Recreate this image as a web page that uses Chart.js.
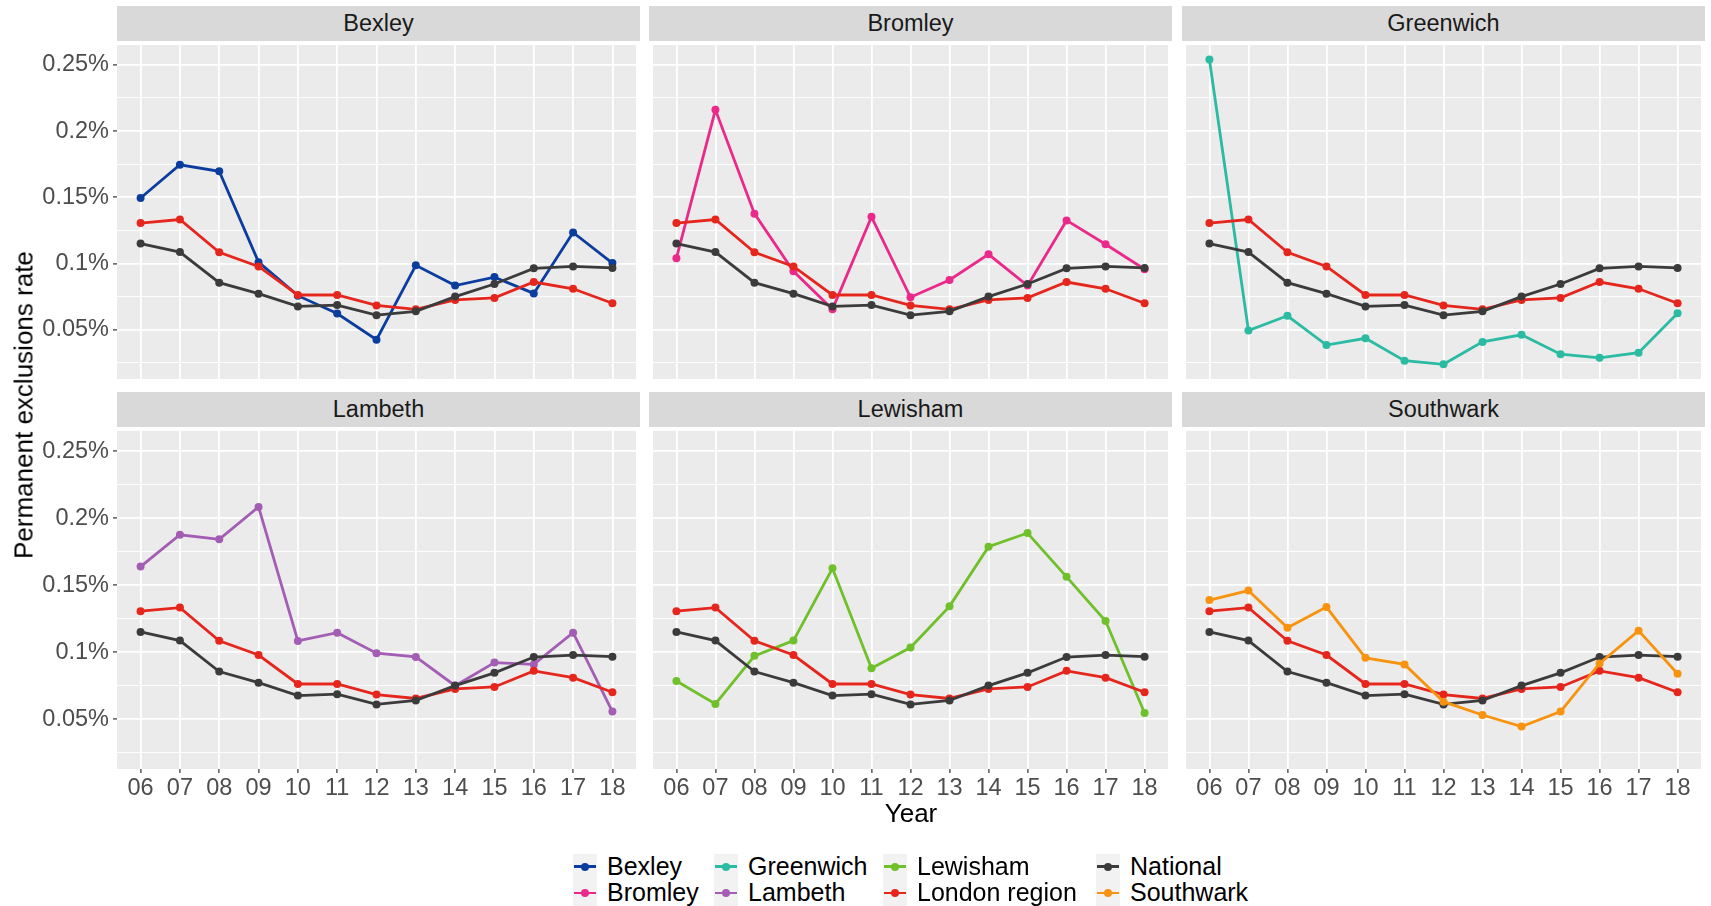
<!DOCTYPE html>
<html>
<head>
<meta charset="utf-8">
<script src="https://cdn.jsdelivr.net/npm/chart.js@4/dist/chart.umd.min.js"></script>
<style>
  html, body { margin: 0; padding: 0; background: #ffffff; }
  body { font-family: "Liberation Sans", Arial, sans-serif; }
  #wrap { position: relative; width: 1711px; height: 906px; overflow: hidden; background: #ffffff; }
  canvas { position: absolute; }
  .strip { position: absolute; background: #d9d9d9; color: #1a1a1a; font-size: 23.5px;
           display: flex; align-items: center; justify-content: center; }
  .ytitle { position: absolute; font-size: 26px; color: #000; white-space: nowrap;
            transform: translate(-50%, -50%) rotate(-90deg); }
  .xtitle { position: absolute; font-size: 26px; color: #000; white-space: nowrap;
            transform: translate(-50%, -50%); }
  .lcol { position: absolute; }
  .litem { display: flex; align-items: center; height: 26.3px; font-size: 25px; color: #000; white-space: nowrap; }
  .lkey { position: relative; width: 24px; height: 26px; background: #f2f2f2; margin-right: 10px; flex: none; }
  .lkey .ln { position: absolute; left: 1px; right: 1px; top: 11.6px; height: 2.8px; }
  .lkey .dt { position: absolute; left: 8px; top: 9px; width: 8px; height: 8px; border-radius: 50%; }
</style>
</head>
<body>
<div id="wrap"></div>
<script>
// ---------------- data ----------------
const years = ['06','07','08','09','10','11','12','13','14','15','16','17','18'];
const panelNames = ['Bexley','Bromley','Greenwich','Lambeth','Lewisham','Southwark'];
const legendOrder = ['Bexley','Bromley','Greenwich','Lambeth','Lewisham','London region','National','Southwark'];

const bexley    = [0.1495,0.1746,0.1697,0.1011,0.0758,0.0623,0.0426,0.0987,0.0834,0.0898,0.0775,0.1235,0.1004];
const bromley   = [0.1041,0.2161,0.1377,0.0942,0.0655,0.1353,0.0746,0.0876,0.1070,0.0834,0.1326,0.1146,0.0957];
const greenwich = [0.2540,0.0495,0.0606,0.0385,0.0436,0.0267,0.0240,0.0409,0.0463,0.0316,0.0289,0.0328,0.0625];
const lambeth   = [0.1639,0.1876,0.1842,0.2084,0.1084,0.1146,0.0993,0.0965,0.0750,0.0923,0.0909,0.1146,0.0557];
const lewisham  = [0.0785,0.0614,0.0973,0.1087,0.1626,0.0881,0.1035,0.1342,0.1787,0.1889,0.1562,0.1233,0.0547];
const southwark = [0.1389,0.1460,0.1183,0.1337,0.0958,0.0909,0.0631,0.0532,0.0446,0.0557,0.0916,0.1161,0.0839];
const londonRegion = [0.1306,0.1333,0.1085,0.0979,0.0763,0.0763,0.0684,0.0655,0.0726,0.0741,0.0861,0.0810,0.0701];
const national     = [0.1151,0.1087,0.0856,0.0773,0.0677,0.0687,0.0611,0.0640,0.0751,0.0846,0.0964,0.0979,0.0967];

const yMajorTicks = [0.05, 0.1, 0.15, 0.2, 0.25];
const yMajorLabels = ['0.05%','0.1%','0.15%','0.2%','0.25%'];
const yMinorTicks = [0.025, 0.075, 0.125, 0.175, 0.225];
const yLimits = [0.0129, 0.2650];

// ---------------- style ----------------
const seriesColors = {
  'Bexley': '#0b3d9f',
  'Bromley': '#ea2a8b',
  'Greenwich': '#2bbba3',
  'Lambeth': '#a45db4',
  'Lewisham': '#6fc02a',
  'London region': '#e5261d',
  'National': '#3b3b3b',
  'Southwark': '#f7930f'
};
const seriesValues = {
  'Bexley': bexley, 'Bromley': bromley, 'Greenwich': greenwich, 'Lambeth': lambeth,
  'Lewisham': lewisham, 'Southwark': southwark, 'London region': londonRegion, 'National': national
};

Chart.defaults.font.family = '"Liberation Sans", Arial, sans-serif';

const wrap = document.getElementById('wrap');
const colLeft = [117, 649, 1182];
const rowTop = [41, 427];
const PW = 523, PH = 342;
const STRIP_H = 35;
const X_AXIS_H = 44;

const bgPlugin = {
  id: 'panelBg',
  beforeDraw(chart) {
    const a = chart.chartArea, ctx = chart.ctx;
    ctx.save();
    ctx.fillStyle = '#ebebeb';
    ctx.fillRect(a.left, a.top, a.right - a.left, a.bottom - a.top);
    ctx.restore();
  }
};

function isMajor(v) { return yMajorTicks.some(t => Math.abs(t - v) < 1e-9); }
function zeroPad(s) { s.paddingTop = 0; s.paddingBottom = 0; s.paddingLeft = 0; s.paddingRight = 0; }

function makePanel(idx) {
  const name = panelNames[idx];
  const r = Math.floor(idx / 3), c = idx % 3;
  const plotL = colLeft[c], plotT = rowTop[r];
  const axisW = c === 0 ? plotL : 0;
  const axisH = r === 1 ? X_AXIS_H : 0;
  const W = PW + axisW, H = PH + axisH;

  // strip
  const strip = document.createElement('div');
  strip.className = 'strip';
  strip.style.left = plotL + 'px';
  strip.style.top = (plotT - STRIP_H) + 'px';
  strip.style.width = PW + 'px';
  strip.style.height = STRIP_H + 'px';
  strip.textContent = name;
  wrap.appendChild(strip);

  const cv = document.createElement('canvas');
  cv.width = W; cv.height = H;
  cv.style.left = (plotL - axisW) + 'px';
  cv.style.top = plotT + 'px';
  cv.style.width = W + 'px';
  cv.style.height = H + 'px';
  wrap.appendChild(cv);

  const names = [name, 'London region', 'National'];
  // ggplot draws in factor order (later on top); Chart.js draws index 0 on top
  names.sort((a, b) => legendOrder.indexOf(b) - legendOrder.indexOf(a));
  const datasets = names.map(n => ({
    label: n,
    data: seriesValues[n].map((v, i) => ({ x: i, y: v })),
    borderColor: seriesColors[n],
    backgroundColor: seriesColors[n],
    pointBackgroundColor: seriesColors[n],
    pointBorderWidth: 0,
    pointRadius: 4,
    borderWidth: 2.8,
    tension: 0,
    fill: false
  }));

  new Chart(cv, {
    type: 'line',
    data: { datasets },
    plugins: [bgPlugin],
    options: {
      responsive: false,
      animation: false,
      devicePixelRatio: 1,
      layout: { padding: 0 },
      plugins: { legend: { display: false }, tooltip: { enabled: false } },
      scales: {
        x: {
          type: 'linear',
          min: -0.6, max: years.length - 1 + 0.6,
          afterBuildTicks: s => { s.ticks = years.map((_, i) => ({ value: i })); },
          afterFit: s => { s.height = axisH; zeroPad(s); },
          border: { display: false },
          grid: {
            color: '#ffffff', lineWidth: 1.8,
            drawTicks: r === 1, tickLength: 4, tickColor: '#333333', tickWidth: 1.2
          },
          ticks: {
            display: r === 1,
            autoSkip: false, maxRotation: 0, minRotation: 0,
            padding: 1,
            color: '#4d4d4d',
            font: { size: 23.5 },
            callback: v => years[v]
          }
        },
        y: {
          type: 'linear',
          min: yLimits[0], max: yLimits[1],
          afterBuildTicks: s => {
            s.ticks = yMinorTicks.concat(yMajorTicks).sort((a, b) => a - b).map(v => ({ value: v }));
          },
          afterFit: s => { s.width = axisW; zeroPad(s); },
          border: { display: false },
          grid: {
            color: '#ffffff',
            lineWidth: ctx => (ctx.tick && isMajor(ctx.tick.value)) ? 1.8 : 0.9,
            drawTicks: c === 0, tickLength: 4,
            tickColor: ctx => (ctx.tick && isMajor(ctx.tick.value)) ? '#333333' : 'rgba(0,0,0,0)',
            tickWidth: 1.2
          },
          ticks: {
            display: c === 0,
            autoSkip: false,
            padding: 4,
            color: '#4d4d4d',
            font: { size: 23.5 },
            callback: v => {
              const k = yMajorTicks.findIndex(t => Math.abs(t - v) < 1e-9);
              return k >= 0 ? yMajorLabels[k] : '';
            }
          }
        }
      }
    }
  });
}

for (let i = 0; i < panelNames.length; i++) makePanel(i);

// axis titles
const yt = document.createElement('div');
yt.className = 'ytitle';
yt.style.left = '24px'; yt.style.top = '405px';
yt.textContent = 'Permanent exclusions rate';
wrap.appendChild(yt);

const xt = document.createElement('div');
xt.className = 'xtitle';
xt.style.left = '911px'; xt.style.top = '813px';
xt.textContent = 'Year';
wrap.appendChild(xt);

// legend (2 rows, filled column by column)
const legendColLeft = [573, 714, 883, 1096];
const legendTop = 853.5;
for (let col = 0; col < 4; col++) {
  const cd = document.createElement('div');
  cd.className = 'lcol';
  cd.style.left = legendColLeft[col] + 'px';
  cd.style.top = legendTop + 'px';
  for (let row = 0; row < 2; row++) {
    const n = legendOrder[col * 2 + row];
    const it = document.createElement('div');
    it.className = 'litem';
    const key = document.createElement('div');
    key.className = 'lkey';
    const ln = document.createElement('div'); ln.className = 'ln'; ln.style.background = seriesColors[n];
    const dt = document.createElement('div'); dt.className = 'dt'; dt.style.background = seriesColors[n];
    key.appendChild(ln); key.appendChild(dt);
    const tx = document.createElement('span'); tx.textContent = n;
    it.appendChild(key); it.appendChild(tx);
    cd.appendChild(it);
  }
  wrap.appendChild(cd);
}
</script>
</body>
</html>
